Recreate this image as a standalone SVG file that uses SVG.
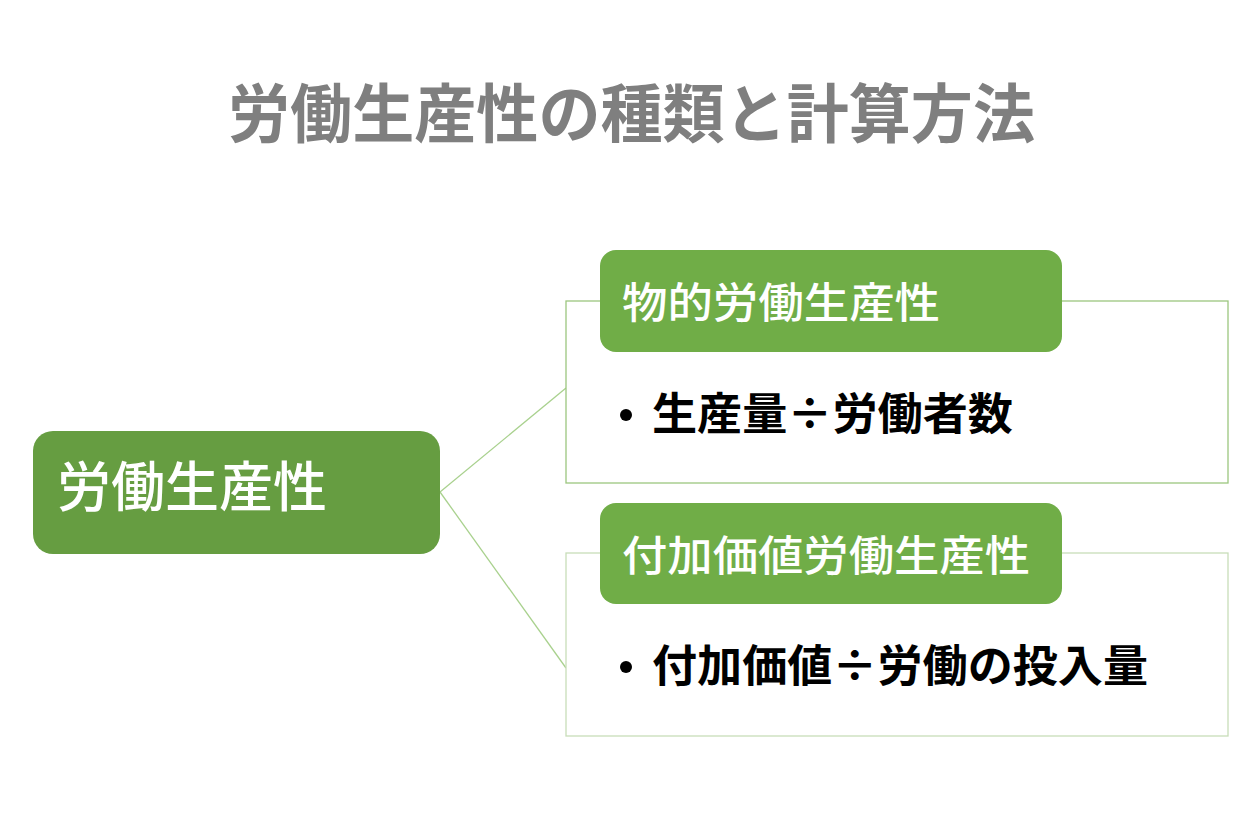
<svg xmlns="http://www.w3.org/2000/svg" width="1260" height="840" viewBox="0 0 1260 840">
<style>
.t{font-family:"Noto Sans CJK JP","Noto Sans CJK SC",sans-serif}
.title{font-size:64px;font-weight:700;fill:#7f7f7f}
.root{font-size:54px;font-weight:500;fill:#fff}
.hdr{font-size:42px;font-weight:500;fill:#fff}
.bul{font-size:44px;font-weight:700;fill:#000}
.box{fill:#fff;stroke-width:1.3}
.hbox{fill:#70ad47}
.conn{stroke:#a9d18e;stroke-width:1.3;fill:none}
</style>
<rect width="1260" height="840" fill="#fff"/>
<text class="t title" x="228" y="137" textLength="807" lengthAdjust="spacingAndGlyphs">労働生産性の種類と計算方法</text>
<g id="connectors">
<line class="conn" x1="440" y1="492" x2="566" y2="388"/>
<line class="conn" x1="440" y1="492" x2="566" y2="668"/>
</g>
<g id="root">
<rect x="33" y="431" width="407" height="123" rx="20" fill="#669d41"/>
<text class="t root" x="57" y="507" textLength="270" lengthAdjust="spacingAndGlyphs">労働生産性</text>
</g>
<g id="physical">
<rect class="box" x="566" y="301" width="662" height="182" stroke="#9cc67f"/>
<rect class="hbox" x="600" y="250" width="462" height="102" rx="16"/>
<text class="t hdr" x="622" y="318" textLength="318" lengthAdjust="spacingAndGlyphs">物的労働生産性</text>
<circle cx="626" cy="415" r="6" fill="#000"/>
<text class="t bul" x="652" y="430" textLength="361" lengthAdjust="spacingAndGlyphs">生産量÷労働者数</text>
</g>
<g id="value-added">
<rect class="box" x="566" y="553" width="662" height="183" stroke="#c8ddb9"/>
<rect class="hbox" x="600" y="503" width="462" height="101" rx="16"/>
<text class="t hdr" x="622" y="571" textLength="408" lengthAdjust="spacingAndGlyphs">付加価値労働生産性</text>
<circle cx="626" cy="667" r="6" fill="#000"/>
<text class="t bul" x="652" y="682" textLength="496" lengthAdjust="spacingAndGlyphs">付加価値÷労働の投入量</text>
</g>
</svg>
